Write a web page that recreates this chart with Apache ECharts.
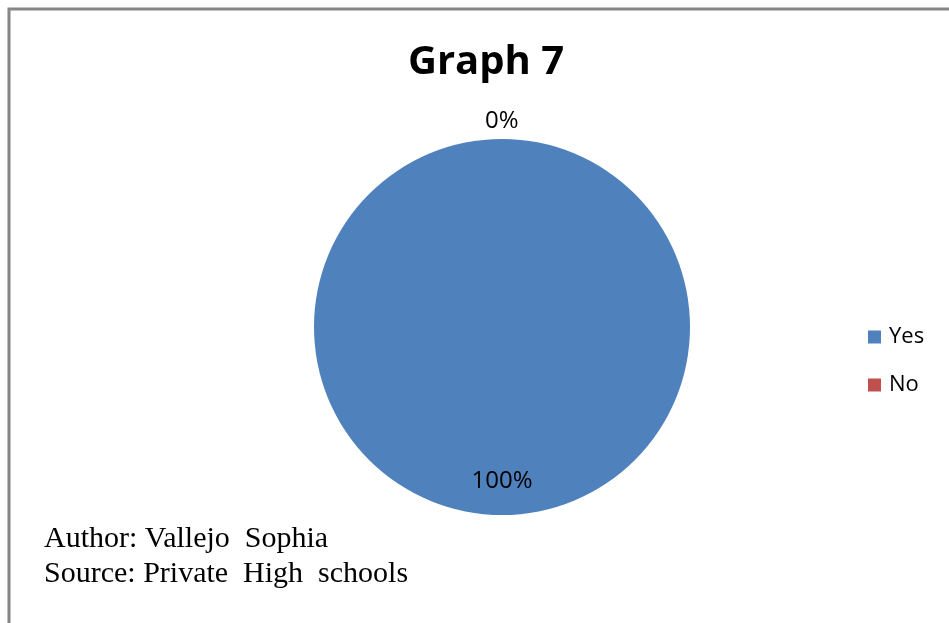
<!DOCTYPE html>
<html>
<head>
<meta charset="utf-8">
<script src="https://cdn.jsdelivr.net/npm/echarts@6/dist/echarts.min.js"></script>
<style>
html,body{margin:0;padding:0;background:#fff;}
#c{width:949px;height:623px;}
</style>
</head>
<body>
<div id="c"></div>
<script>
const titleText = 'Graph 7';
const categories = ['Yes', 'No'];
const values = [100, 0];
const colors = ['#4F81BD', '#C0504D'];
const footnotes = ['Author: Vallejo  Sophia', 'Source: Private  High  schools'];

const chart = echarts.init(document.getElementById('c'), null, {renderer: 'canvas'});
const data = categories.map((c, i) => ({
  name: c,
  value: values[i],
  itemStyle: {color: colors[i]},
  label: i === 0
    ? {position: 'inside'}
    : {position: 'outside'}
}));

chart.setOption({
  backgroundColor: '#fff',
  animation: false,
  title: {
    text: titleText,
    left: 481,
    top: 38,
    textAlign: 'center',
    textStyle: {fontFamily: 'Open Sans', fontWeight: 'bold', fontSize: 40, color: '#000'}
  },
  legend: {
    orient: 'vertical',
    left: 863,
    top: 320,
    itemWidth: 13,
    itemHeight: 13,
    itemGap: 24,
    icon: 'rect',
    data: categories,
    textStyle: {fontFamily: 'Open Sans', fontSize: 22, lineHeight: 24, color: '#000', padding: [0,0,0,3]}
  },
  graphic: [
    {type: 'rect', shape: {x: 9, y: 9, width: 960, height: 640}, style: {fill: 'none', stroke: '#868686', lineWidth: 3}},
    {type: 'text', left: 44, top: 522, style: {text: footnotes.join('\n'), font: '30px "Liberation Serif"', fill: '#000', lineHeight: 35}}
  ],
  series: [{
    type: 'pie',
    center: [502, 327],
    radius: [0, 188],
    startAngle: 90,
    clockwise: true,
    avoidLabelOverlap: false,
    label: {
      show: true,
      formatter: p => Math.round(p.percent) + '%',
      fontFamily: 'Open Sans',
      fontSize: 24,
      color: '#000'
    },
    labelLine: {show: false, length: 2, length2: 0},
    labelLayout: function (params) {
      if (params.dataIndex === 0) return {dy: 57};
      return {dx: -22, dy: -16};
    },
    emphasis: {disabled: true},
    data: data
  }]
});
</script>
</body>
</html>
